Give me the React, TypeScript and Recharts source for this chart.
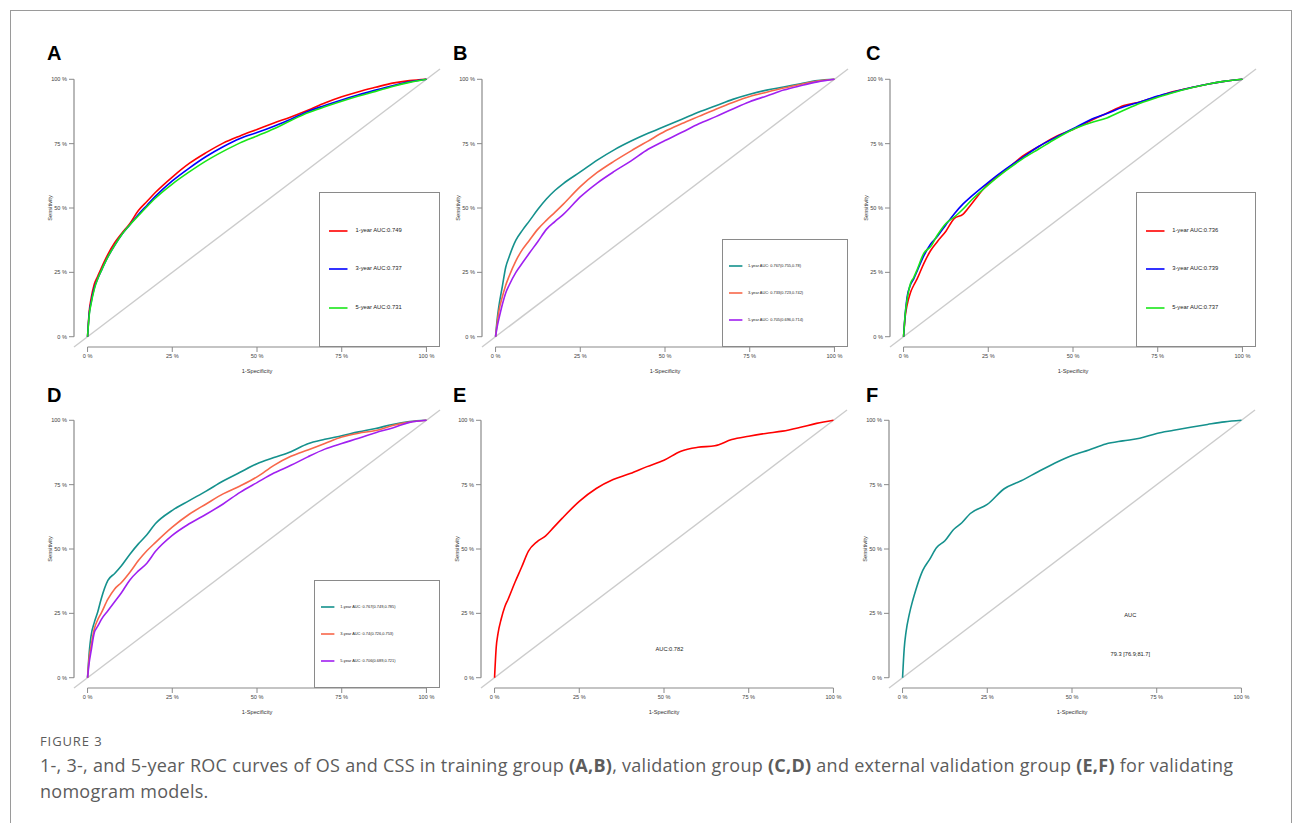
import React from 'react';
import { LineChart, Line, XAxis, YAxis, ReferenceLine, ReferenceDot, Legend } from 'recharts';

// false positive rate grid (percent) shared by every curve
const FPR = [0, 0.5, 1, 2, 3, 4, 6, 8, 10, 12.5, 15, 17.5, 20, 25, 30, 35, 40, 45, 50, 55, 60, 65, 70, 75, 80, 85, 90, 95, 100];
const PCT_TICKS = [0, 25, 50, 75, 100];

// A - training group, OS
const A_1Y = [0, 10, 14.5, 20.5, 23.5, 26.5, 32, 36.5, 40, 44, 49, 52.5, 56, 62, 67.3, 71.5, 75.2, 78, 80.5, 83, 85.4, 88, 90.8, 93.2, 95.2, 96.9, 98.5, 99.5, 100];
const A_3Y = [0, 9, 13, 19, 22.5, 25.5, 31, 35.5, 39.5, 43.5, 47.5, 51, 54.5, 60.5, 65.5, 70, 73.8, 77, 79.3, 81.8, 84.5, 87.5, 89.8, 92, 94, 95.8, 97.5, 99, 100];
const A_5Y = [0, 8.5, 12.5, 18.5, 22.5, 25.5, 31, 35.5, 39.5, 43.5, 47, 50.5, 53.8, 59.3, 64, 68.3, 72, 75.3, 78, 80.8, 84, 87, 89.3, 91.5, 93.5, 95.3, 97.2, 98.8, 100];

// B - training group, CSS
const B_1Y = [0, 7, 12, 19.5, 27, 31, 37.5, 41.5, 45, 49.5, 53.5, 56.8, 59.5, 64, 68.6, 72.6, 76, 79, 81.8, 84.5, 87.3, 89.7, 92.2, 94.2, 95.8, 97, 98.3, 99.5, 100];
const B_3Y = [0, 5.5, 10, 15.5, 20, 23.5, 29.5, 34, 37.5, 41.8, 45.2, 48.3, 51.5, 58.3, 63.8, 68.2, 72.2, 76, 79.8, 82.8, 85.6, 88.4, 91, 93.3, 95, 96.6, 98, 99.3, 100];
const B_5Y = [0, 4, 7, 12.5, 17, 20, 25, 28.8, 32.5, 37, 41.7, 44.7, 47.5, 54.3, 59.7, 64.2, 68.3, 72.8, 76.2, 79.4, 82.7, 85.5, 88.5, 91.3, 93.5, 95.8, 97.5, 99, 100];

// C - validation group, OS
const C_1Y = [0, 8, 12, 17, 20, 22.5, 28.5, 33.5, 37, 41, 46, 47.5, 51.5, 59.5, 64.5, 70, 74, 77.8, 80.5, 83.8, 86.8, 89.8, 91.3, 93.3, 95.3, 96.8, 98.2, 99.3, 100];
const C_3Y = [0, 9, 15, 20, 22.5, 25.5, 31.5, 36, 39, 43.5, 47.8, 51.5, 54.5, 60, 65, 69.5, 74, 77.5, 80.8, 84.2, 86.7, 89.3, 91.3, 93.5, 95.2, 96.8, 98.2, 99.3, 100];
const C_5Y = [0, 9, 14, 20.5, 23, 26, 32.5, 35, 39.5, 44, 46.5, 49.5, 53, 59, 64.3, 69, 73, 77, 80.5, 83, 85, 88, 90.8, 93, 95, 96.7, 98.2, 99.3, 100];

// D - validation group, CSS
const D_1Y = [0, 10, 16, 21.5, 25.5, 30.5, 37.8, 40.5, 43.5, 48, 52, 55.5, 59.8, 65, 68.8, 72.5, 76.4, 79.8, 83.1, 85.5, 87.8, 90.9, 92.6, 94, 95.5, 96.8, 98.4, 99.5, 100];
const D_3Y = [0, 8, 12, 19, 22.5, 25, 30.5, 34.5, 37, 41, 45.5, 49.3, 52.5, 58.5, 63.5, 67.5, 71.4, 74.5, 78, 82.5, 86, 88.5, 91, 93.5, 95, 96, 98, 99.3, 100];
const D_5Y = [0, 6, 10, 17.5, 20, 22.5, 26, 29.5, 33, 38, 41.5, 44.5, 49, 55.3, 59.8, 63.5, 67.5, 72, 75.8, 79.5, 82.5, 85.8, 88.8, 91, 93, 95.2, 97, 99.2, 100];

// E / F - external validation group
const E_ALL = [0, 12, 17, 23, 27.5, 30.5, 37, 43, 49.2, 52.8, 55, 58.5, 62, 68.5, 73.5, 77, 79.3, 82, 84.5, 88, 89.5, 90.1, 92.5, 93.8, 94.9, 95.8, 97.2, 98.8, 100];
const F_ALL = [0, 11.5, 17.5, 24.7, 30, 34.5, 41.8, 46, 50.5, 53.2, 57.5, 60.2, 63.8, 67.3, 73.4, 76.5, 80, 83.4, 86.3, 88.5, 90.8, 92, 93, 94.9, 96.1, 97.3, 98.4, 99.4, 100];

const RED = '#ff0000';
const BLUE = '#0000ff';
const GREEN = '#19e619';
const TEAL = '#15918d';
const CORAL = '#f8674a';
const PURPLE = '#a020f0';

const FONT = '"Liberation Sans", Arial, Helvetica, sans-serif';

const PLOT_W = 366;
const PLOT_H = 278;
const Y_W = 60;
const M_TOP = 10;
const M_RIGHT = 10;
const X_H = 40;
const CHART_W = Y_W + PLOT_W + M_RIGHT;
const CHART_H = M_TOP + PLOT_H + X_H;

type Curve = { name: string; values: number[]; color: string };
type Note = { x: number; y: number; text: string };
type LegendSpec = { x1: number; y2: number; lineStart: number; lineLen: number; textStart: number; fontSize: number };

const pxX = (v: number) => ((v + 4) / 108) * PLOT_W;
const pxY = (v: number) => ((104 - v) / 108) * PLOT_H;

function BoxLegend({ payload, spec, height }: { payload?: any[]; spec: LegendSpec; height: number }) {
  const items = (payload || []).filter((p) => p.type !== 'none');
  return (
    <div style={{ position: 'relative', width: '100%', height: '100%', border: '1px solid #8a8a8a', boxSizing: 'border-box', fontFamily: FONT }}>
      {items.map((p, i) => (
        <div key={i} style={{ position: 'absolute', left: 0, top: Math.round((height * (i + 1)) / 4) - 1 }}>
          <svg width={spec.lineLen} height={4} style={{ position: 'absolute', left: spec.lineStart, top: -2, overflow: 'visible' }}>
            <line x1={0} y1={2} x2={spec.lineLen} y2={2} stroke={p.color} strokeWidth={1.6} />
          </svg>
          <div style={{ position: 'absolute', left: spec.textStart, top: 0, transform: 'translateY(-50%)', fontSize: spec.fontSize, lineHeight: 1, color: '#222', whiteSpace: 'nowrap' }}>
            {p.value}
          </div>
        </div>
      ))}
    </div>
  );
}

function RocPanel({ left, top, curves, legend, notes = [] }: { left: number; top: number; curves: Curve[]; legend?: LegendSpec; notes?: Note[] }) {
  const data = FPR.map((x, i) => {
    const row: { [key: string]: number } = { fpr: x };
    curves.forEach((c, k) => { row[`s${k}`] = c.values[i]; });
    return row;
  });
  const tickStyle = { fontSize: 5.6, fill: '#444', fontFamily: FONT };
  const legH = legend ? PLOT_H - pxY(legend.y2) : 0;
  return (
    <div style={{ position: 'absolute', left: left - Y_W, top: top - M_TOP }}>
      <LineChart width={CHART_W} height={CHART_H} data={data} margin={{ top: M_TOP, right: M_RIGHT, bottom: 0, left: 0 }}>
        <XAxis type="number" dataKey="fpr" domain={[-4, 104]} ticks={PCT_TICKS} tickFormatter={(v) => `${v} %`}
          axisLine={false} tickLine={{ stroke: '#8a8a8a' }} tickSize={5} tick={tickStyle} height={X_H}
          label={{ value: '1-Specificity', position: 'insideBottom', offset: 14, fontSize: 5.7, fill: '#333', fontFamily: FONT }} />
        <YAxis type="number" domain={[-4, 104]} ticks={PCT_TICKS} tickFormatter={(v) => `${v} %`}
          axisLine={false} tickLine={{ stroke: '#8a8a8a' }} tickSize={5} tick={tickStyle} width={Y_W}
          label={{ value: 'Sensitivity', angle: -90, position: 'insideLeft', offset: 36, fontSize: 5.7, fill: '#333', fontFamily: FONT, style: { textAnchor: 'middle' } }} />
        <ReferenceLine segment={[{ x: -4, y: -4 }, { x: 104, y: 104 }]} stroke="#cccccc" strokeWidth={1.4} />
        <ReferenceLine segment={[{ x: 0, y: -4 }, { x: 100, y: -4 }]} stroke="#8a8a8a" strokeWidth={1.2} />
        <ReferenceLine segment={[{ x: -4, y: 0 }, { x: -4, y: 100 }]} stroke="#8a8a8a" strokeWidth={1.2} />
        {curves.map((c, k) => (
          <Line key={c.name} type="monotone" dataKey={`s${k}`} name={c.name} stroke={c.color} strokeWidth={1.6} dot={false} isAnimationActive={false} />
        ))}
        {notes.map((n) => (
          <ReferenceDot key={n.text} x={n.x} y={n.y} r={0} fill="none" stroke="none"
            label={{ value: n.text, position: 'center', fontSize: 5.7, fill: '#222', fontFamily: FONT }} />
        ))}
        {legend && (
          <Legend layout="vertical" align="center" verticalAlign="middle"
            wrapperStyle={{ left: Y_W + pxX(legend.x1), top: M_TOP + pxY(legend.y2), width: PLOT_W - pxX(legend.x1), height: legH }}
            content={(props: any) => <BoxLegend payload={props.payload} spec={legend} height={legH} />} />
        )}
      </LineChart>
    </div>
  );
}

const bigLegend = (x1: number, y2: number): LegendSpec => ({ x1, y2, lineStart: 9, lineLen: 18.5, textStart: 35.5, fontSize: 5.8 });
const smallLegend = (x1: number, y2: number): LegendSpec => ({ x1, y2, lineStart: 6, lineLen: 13.4, textStart: 25, fontSize: 3.9 });

function Letter({ x, baseline, children }: { x: number; baseline: number; children: string }) {
  return (
    <div style={{ position: 'absolute', left: x, top: baseline - 17, fontFamily: FONT, fontWeight: 'bold', fontSize: 20, lineHeight: '20px', color: '#000' }}>
      {children}
    </div>
  );
}

export default function App() {
  return (
    <div style={{ position: 'absolute', left: 0, top: 0, width: 1295, height: 823, background: '#fff', overflow: 'hidden' }}>
      <div style={{ position: 'absolute', left: 10, top: 10, width: 1282, height: 840, border: '1px solid #9a9a9a', boxSizing: 'border-box' }} />

      <Letter x={47} baseline={60}>A</Letter>
      <Letter x={453} baseline={60}>B</Letter>
      <Letter x={866} baseline={60}>C</Letter>
      <Letter x={47} baseline={402}>D</Letter>
      <Letter x={453} baseline={402}>E</Letter>
      <Letter x={866} baseline={402}>F</Letter>

      <RocPanel left={73.7} top={68.7} legend={bigLegend(68.4, 56.2)} curves={[
        { name: '1-year AUC:0.749', values: A_1Y, color: RED },
        { name: '3-year AUC:0.737', values: A_3Y, color: BLUE },
        { name: '5-year AUC:0.731', values: A_5Y, color: GREEN },
      ]} />
      <RocPanel left={481.7} top={68.7} legend={smallLegend(66.9, 37.9)} curves={[
        { name: '1-year AUC: 0.767(0.755,0.78)', values: B_1Y, color: TEAL },
        { name: '3-year AUC: 0.733(0.723,0.742)', values: B_3Y, color: CORAL },
        { name: '5-year AUC: 0.705(0.696,0.714)', values: B_5Y, color: PURPLE },
      ]} />
      <RocPanel left={889.7} top={68.7} legend={bigLegend(68.6, 56.2)} curves={[
        { name: '1-year AUC:0.736', values: C_1Y, color: RED },
        { name: '3-year AUC:0.739', values: C_3Y, color: BLUE },
        { name: '5-year AUC:0.737', values: C_5Y, color: GREEN },
      ]} />
      <RocPanel left={73.7} top={409.7} legend={smallLegend(67, 38)} curves={[
        { name: '1-year AUC: 0.767(0.749,0.785)', values: D_1Y, color: TEAL },
        { name: '3-year AUC: 0.74(0.726,0.753)', values: D_3Y, color: CORAL },
        { name: '5-year AUC: 0.706(0.689,0.721)', values: D_5Y, color: PURPLE },
      ]} />
      <RocPanel left={481.4} top={409.7} notes={[{ x: 51.6, y: 11, text: 'AUC:0.782' }]} curves={[
        { name: 'AUC', values: E_ALL, color: RED },
      ]} />
      <RocPanel left={888.7} top={409.7} notes={[{ x: 67.2, y: 24.4, text: 'AUC' }, { x: 67.2, y: 9.3, text: '79.3 [76.9;81.7]' }]} curves={[
        { name: 'AUC', values: F_ALL, color: TEAL },
      ]} />

      <div style={{ position: 'absolute', left: 40, top: 734, fontFamily: '"Open Sans", sans-serif', fontSize: 13, letterSpacing: 0.9, lineHeight: '14px', color: '#5c5c5c' }}>
        FIGURE 3
      </div>
      <div style={{ position: 'absolute', left: 40, top: 752, fontFamily: '"Open Sans", sans-serif', fontSize: 18, letterSpacing: 0.27, lineHeight: '26px', color: '#5c5c5c', whiteSpace: 'nowrap' }}>
        1-, 3-, and 5-year ROC curves of OS and CSS in training group <b>(A,B)</b>, validation group <b>(C,D)</b> and external validation group <b>(E,F)</b> for validating
        <br />
        nomogram models.
      </div>
    </div>
  );
}
